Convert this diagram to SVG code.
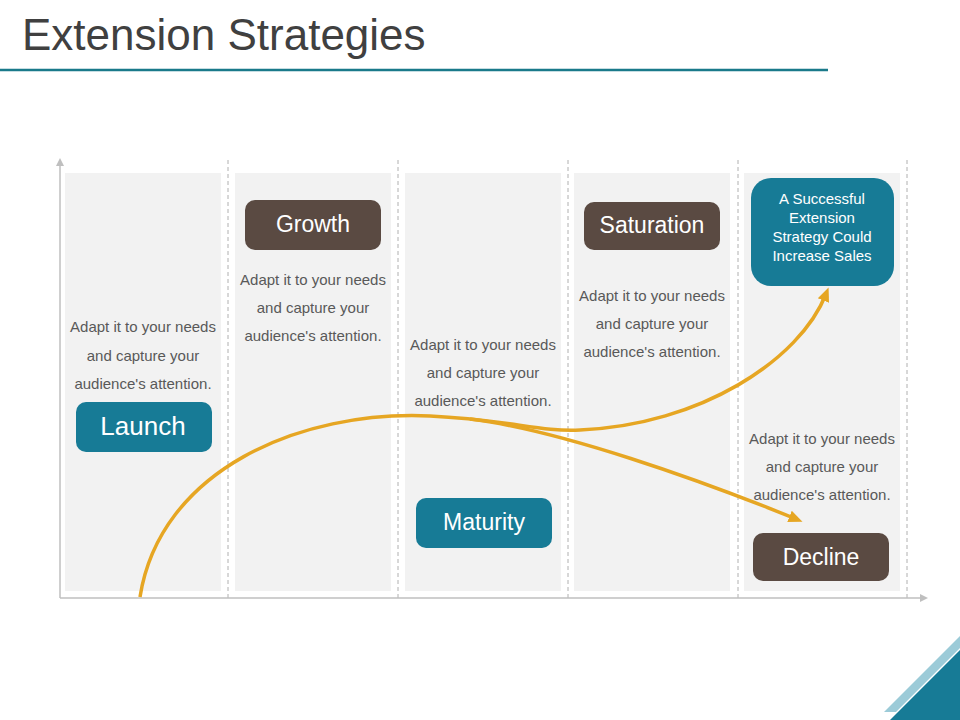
<svg xmlns="http://www.w3.org/2000/svg" width="960" height="720" viewBox="0 0 960 720">
<style>
.col{fill:#f2f2f2}
.dash{stroke:#b0b0b0;stroke-width:1;stroke-dasharray:4,3}
.ax{stroke:#bfbfbf;stroke-width:1.5;fill:none}
.t{font-family:"Liberation Sans",Arial,sans-serif;font-size:15px;fill:#595959;text-anchor:middle}
.lb{font-family:"Liberation Sans",Arial,sans-serif;fill:#fff;text-anchor:middle}
.teal{fill:#177b96}
.brown{fill:#5a4a42}
.cur{fill:none;stroke:#e6a623;stroke-width:3.5}
</style>
<defs>
<marker id="ah" markerWidth="8" markerHeight="8" refX="4" refY="4" orient="auto" markerUnits="userSpaceOnUse" viewBox="0 0 8 8"><path d="M0,0 L8,4 L0,8 z" fill="#bfbfbf"/></marker>
<marker id="oa" markerWidth="14" markerHeight="14" refX="7" refY="7" orient="auto" markerUnits="userSpaceOnUse" viewBox="0 0 14 14"><path d="M0,1 L14,7 L0,13 z" fill="#e6a623"/></marker>
</defs>
<rect width="960" height="720" fill="#fff"/>
<text x="22" y="50" font-family="'Liberation Sans',Arial,sans-serif" font-size="44" fill="#404040">Extension Strategies</text>
<line x1="0" y1="70" x2="828" y2="70" stroke="#1a7a8a" stroke-width="2.5"/>
<g id="columns">
<rect class="col" x="65" y="173" width="156" height="418"/>
<rect class="col" x="235" y="173" width="156" height="418"/>
<rect class="col" x="405" y="173" width="156" height="418"/>
<rect class="col" x="574" y="173" width="156" height="418"/>
<rect class="col" x="744" y="173" width="156" height="418"/>
<line class="dash" x1="228" y1="160" x2="228" y2="598"/>
<line class="dash" x1="398" y1="160" x2="398" y2="598"/>
<line class="dash" x1="568" y1="160" x2="568" y2="598"/>
<line class="dash" x1="738" y1="160" x2="738" y2="598"/>
<line class="dash" x1="907" y1="160" x2="907" y2="598"/>
<path class="ax" d="M60,598 V162" marker-end="url(#ah)"/>
<path class="ax" d="M60,598 H924" marker-end="url(#ah)"/>
</g>
<g id="connectors">
<path class="cur" d="M140,597 C160,470 300,410 430,416 C510,420 540,432 580,430 C700,425 800,360 826,294" marker-end="url(#oa)"/>
<path class="cur" d="M470,419 C560,430 700,480 796,519" marker-end="url(#oa)"/>
</g>
<g id="launch">
<text class="t" x="143" y="332">Adapt it to your needs</text>
<text class="t" x="143" y="361">and capture your</text>
<text class="t" x="143" y="389">audience's attention.</text>
<rect class="teal" x="76" y="402" width="136" height="50" rx="10"/>
<text class="lb" x="143" y="435" font-size="26">Launch</text>
</g>
<g id="growth">
<rect class="brown" x="245" y="200" width="136" height="50" rx="10"/>
<text class="lb" x="313" y="232" font-size="23">Growth</text>
<text class="t" x="313" y="285">Adapt it to your needs</text>
<text class="t" x="313" y="313">and capture your</text>
<text class="t" x="313" y="341">audience's attention.</text>
</g>
<g id="maturity">
<text class="t" x="483" y="350">Adapt it to your needs</text>
<text class="t" x="483" y="378">and capture your</text>
<text class="t" x="483" y="406">audience's attention.</text>
<rect class="teal" x="416" y="498" width="136" height="50" rx="10"/>
<text class="lb" x="484" y="530" font-size="23">Maturity</text>
</g>
<g id="saturation">
<rect class="brown" x="584" y="202" width="136" height="48" rx="10"/>
<text class="lb" x="652" y="233" font-size="23">Saturation</text>
<text class="t" x="652" y="301">Adapt it to your needs</text>
<text class="t" x="652" y="329">and capture your</text>
<text class="t" x="652" y="357">audience's attention.</text>
</g>
<g id="success">
<rect class="teal" x="751" y="178" width="143" height="108" rx="20"/>
<text class="lb" x="822" y="204" font-size="15">A Successful</text>
<text class="lb" x="822" y="223" font-size="15">Extension</text>
<text class="lb" x="822" y="242" font-size="15">Strategy Could</text>
<text class="lb" x="822" y="261" font-size="15">Increase Sales</text>
</g>
<g id="decline">
<text class="t" x="822" y="444">Adapt it to your needs</text>
<text class="t" x="822" y="472">and capture your</text>
<text class="t" x="822" y="500">audience's attention.</text>
<rect class="brown" x="753" y="533" width="136" height="48" rx="10"/>
<text class="lb" x="821" y="565" font-size="23">Decline</text>
</g>
<polygon points="884,712 960,636 960,648 896,712" fill="#9ccbd8"/>
<polygon points="890,720 960,650 960,720" fill="#177b96"/>
</svg>
